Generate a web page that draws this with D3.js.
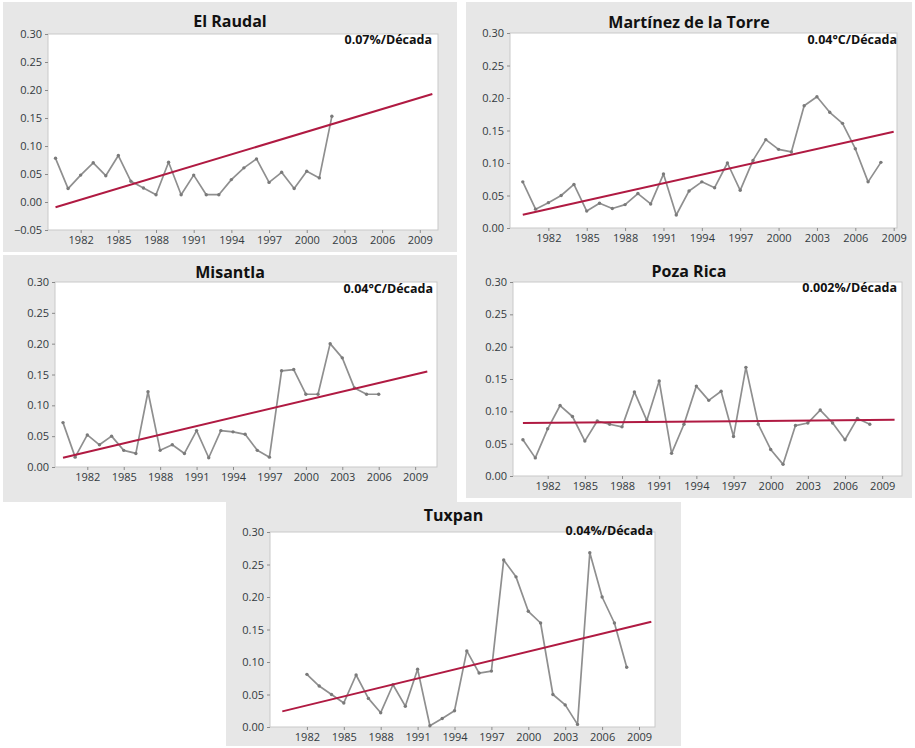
<!DOCTYPE html>
<html>
<head>
<meta charset="utf-8">
<script src="https://cdn.jsdelivr.net/npm/d3@7"></script>
<style>
  body { margin: 0; background: #ffffff; }
  svg { display: block; }
</style>
</head>
<body>
<svg id="chart" width="915" height="748"></svg>
<script>
// Annual series per station (values in the units of each panel)
const raudalYears  = [1980,1981,1982,1983,1984,1985,1986,1987,1988,1989,1990,1991,1992,1993,1994,1995,1996,1997,1998,1999,2000,2001,2002];
const raudalValues = [0.078,0.024,0.048,0.070,0.047,0.083,0.037,0.025,0.013,0.071,0.013,0.048,0.013,0.013,0.040,0.061,0.077,0.035,0.053,0.024,0.055,0.043,0.153];
const raudalTrend  = [[1980,-0.0095],[2010,0.193]];

const martinezYears  = [1980,1981,1982,1983,1984,1985,1986,1987,1988,1989,1990,1991,1992,1993,1994,1995,1996,1997,1998,1999,2000,2001,2002,2003,2004,2005,2006,2007,2008];
const martinezValues = [0.071,0.029,0.039,0.050,0.067,0.026,0.038,0.030,0.036,0.053,0.037,0.083,0.020,0.057,0.071,0.062,0.100,0.058,0.104,0.136,0.121,0.117,0.188,0.202,0.178,0.161,0.122,0.071,0.101];
const martinezTrend  = [[1980,0.0205],[2009,0.148]];

const misantlaYears  = [1980,1981,1982,1983,1984,1985,1986,1987,1988,1989,1990,1991,1992,1993,1994,1995,1996,1997,1998,1999,2000,2001,2002,2003,2004,2005,2006];
const misantlaValues = [0.072,0.016,0.052,0.036,0.050,0.027,0.022,0.122,0.027,0.036,0.022,0.059,0.015,0.059,0.057,0.053,0.027,0.016,0.156,0.158,0.118,0.118,0.200,0.177,0.128,0.118,0.118];
const misantlaTrend  = [[1980,0.015],[2010,0.155]];

const pozaYears  = [1980,1981,1982,1983,1984,1985,1986,1987,1988,1989,1990,1991,1992,1993,1994,1995,1996,1997,1998,1999,2000,2001,2002,2003,2004,2005,2006,2007,2008];
const pozaValues = [0.056,0.028,0.073,0.109,0.092,0.054,0.085,0.080,0.076,0.130,0.086,0.147,0.035,0.080,0.139,0.117,0.131,0.061,0.168,0.080,0.041,0.018,0.078,0.082,0.102,0.082,0.056,0.089,0.080];
const pozaTrend  = [[1980,0.082],[2010,0.087]];

const tuxpanYears  = [1982,1983,1984,1985,1986,1987,1988,1989,1990,1991,1992,1993,1994,1995,1996,1997,1998,1999,2000,2001,2002,2003,2004,2005,2006,2007,2008];
const tuxpanValues = [0.081,0.063,0.050,0.037,0.080,0.044,0.022,0.065,0.032,0.089,0.002,0.013,0.025,0.117,0.083,0.086,0.257,0.231,0.178,0.160,0.050,0.034,0.004,0.268,0.200,0.160,0.092];
const tuxpanTrend  = [[1980,0.024],[2010,0.162]];

// Axis tick labels
const xTickYears   = [1982,1985,1988,1991,1994,1997,2000,2003,2006,2009];
const yTicksRaudal = [-0.05,0.00,0.05,0.10,0.15,0.20,0.25,0.30];
const yTicksOther  = [0.00,0.05,0.10,0.15,0.20,0.25,0.30];

// Station titles and trend annotations
const stationNames = ["El Raudal","Martínez de la Torre","Misantla","Poza Rica","Tuxpan"];
const trendLabels  = ["0.07%/Década","0.04°C/Década","0.04°C/Década","0.002%/Década","0.04%/Década"];

// Panel layout: background box, plot rectangle, domains and text anchors
const panels = [
  { name: stationNames[0], rate: trendLabels[0], years: raudalYears, values: raudalValues, trend: raudalTrend, yTicks: yTicksRaudal,
    box: [3, 2, 457, 252], plot: [48, 34, 438, 230], xDom: [1979.40, 2010.45], yDom: [-0.05, 0.30], titleY: 27, rateX: 432, rateY: 44 },
  { name: stationNames[1], rate: trendLabels[1], years: martinezYears, values: martinezValues, trend: martinezTrend, yTicks: yTicksOther,
    box: [466, 2, 912, 250], plot: [510, 33, 897, 228], xDom: [1979.00, 2009.26], yDom: [0, 0.30], titleY: 28, rateX: 897, rateY: 44 },
  { name: stationNames[2], rate: trendLabels[2], years: misantlaYears, values: misantlaValues, trend: misantlaTrend, yTicks: yTicksOther,
    box: [3, 255, 457, 502], plot: [55, 282, 437, 467], xDom: [1979.34, 2010.80], yDom: [0, 0.30], titleY: 278, rateX: 433, rateY: 293 },
  { name: stationNames[3], rate: trendLabels[3], years: pozaYears, values: pozaValues, trend: pozaTrend, yTicks: yTicksOther,
    box: [466, 250, 912, 498], plot: [513, 282, 902, 476], xDom: [1979.20, 2010.60], yDom: [0, 0.30], titleY: 277, rateX: 897, rateY: 292 },
  { name: stationNames[4], rate: trendLabels[4], years: tuxpanYears, values: tuxpanValues, trend: tuxpanTrend, yTicks: yTicksOther,
    box: [226, 502, 681, 746], plot: [270, 532, 655, 727], xDom: [1979.00, 2010.30], yDom: [0, 0.30], titleY: 521, rateX: 653, rateY: 535 }
];

const svg = d3.select("#chart");
const FONT = "'Open Sans', 'Noto Sans', sans-serif";

panels.forEach(p => {
  const [bx0, by0, bx1, by1] = p.box;
  const [px0, py0, px1, py1] = p.plot;
  const g = svg.append("g");

  // panel background
  g.append("rect")
    .attr("x", bx0).attr("y", by0)
    .attr("width", bx1 - bx0).attr("height", by1 - by0)
    .attr("fill", "#e7e7e7");

  // data region
  g.append("rect")
    .attr("x", px0).attr("y", py0)
    .attr("width", px1 - px0).attr("height", py1 - py0)
    .attr("fill", "#ffffff")
    .attr("stroke", "#c9c9c9").attr("stroke-width", 1);

  const x = d3.scaleLinear().domain(p.xDom).range([px0, px1]);
  const y = d3.scaleLinear().domain(p.yDom).range([py1, py0]);

  // axes
  const yAxis = d3.axisLeft(y).tickValues(p.yTicks).tickFormat(d3.format(".2f"))
    .tickSize(3).tickPadding(3);
  const xAxis = d3.axisBottom(x).tickValues(xTickYears).tickFormat(d3.format("d"))
    .tickSize(3).tickPadding(3);

  const ya = g.append("g").attr("transform", `translate(${px0},0)`).call(yAxis);
  const xa = g.append("g").attr("transform", `translate(0,${py1})`).call(xAxis);
  [ya, xa].forEach(a => {
    a.select(".domain").remove();
    a.selectAll(".tick line").attr("stroke", "#8a8a8a");
    a.selectAll(".tick text")
      .attr("fill", "#333a40")
      .style("font-family", FONT)
      .style("font-size", "11px");
  });

  // series line
  const pts = p.years.map((yr, i) => [yr, p.values[i]]);
  const line = d3.line().x(d => x(d[0])).y(d => y(d[1]));
  g.append("path")
    .datum(pts)
    .attr("d", line)
    .attr("fill", "none")
    .attr("stroke", "#8f8f8f")
    .attr("stroke-width", 1.7)
    .attr("stroke-linejoin", "round");

  g.selectAll("circle.pt").data(pts).join("circle")
    .attr("class", "pt")
    .attr("cx", d => x(d[0])).attr("cy", d => y(d[1]))
    .attr("r", 1.7)
    .attr("fill", "#7a7a7a");

  // linear trend
  g.append("path")
    .datum(p.trend)
    .attr("d", line)
    .attr("fill", "none")
    .attr("stroke", "#b01a42")
    .attr("stroke-width", 2);

  // title
  g.append("text")
    .attr("x", (bx0 + bx1) / 2).attr("y", p.titleY)
    .attr("text-anchor", "middle")
    .attr("fill", "#111")
    .style("font-family", FONT)
    .style("font-weight", 700)
    .style("font-size", "16px")
    .text(p.name);

  // trend rate annotation
  g.append("text")
    .attr("x", p.rateX).attr("y", p.rateY)
    .attr("text-anchor", "end")
    .attr("fill", "#111")
    .style("font-family", FONT)
    .style("font-weight", 700)
    .style("font-size", "12.5px")
    .text(p.rate);
});
</script>
</body>
</html>
